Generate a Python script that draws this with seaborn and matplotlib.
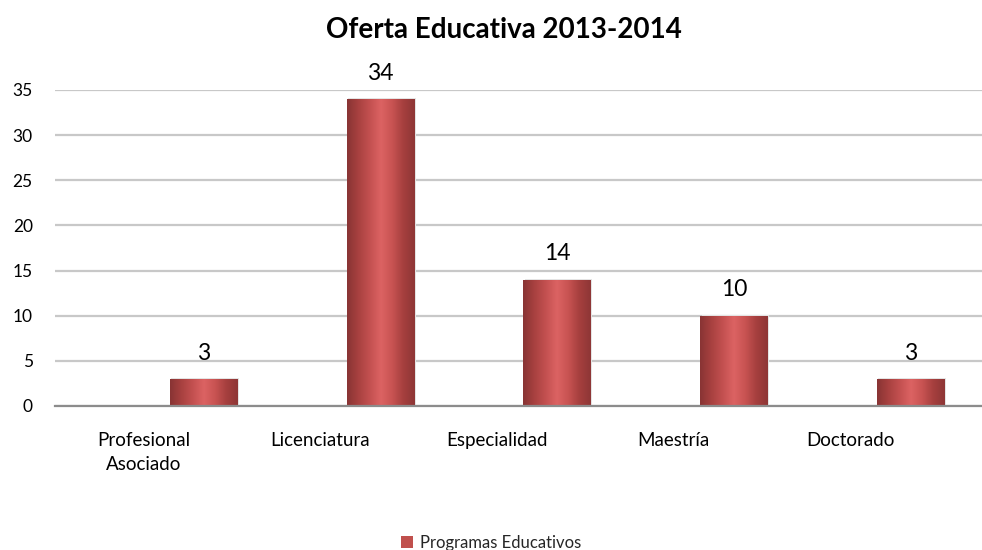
import matplotlib
matplotlib.use("Agg")
import matplotlib.pyplot as plt
import seaborn as sns
import pandas as pd
import numpy as np
from matplotlib.colors import LinearSegmentedColormap
from matplotlib.patches import Patch

categorias = ["Profesional\nAsociado", "Licenciatura", "Especialidad", "Maestría", "Doctorado"]
valores = [3, 34, 14, 10, 3]
serie = "Programas Educativos"
titulo = "Oferta Educativa 2013-2014"
yticks = [0, 5, 10, 15, 20, 25, 30, 35]

df = pd.DataFrame({"categoria": categorias, "valor": valores})

sns.set_theme(style="white")
plt.rcParams["font.family"] = ["Lato", "DejaVu Sans"]

fig = plt.figure(figsize=(9.82, 5.5), dpi=100)
ax = fig.add_axes([55/982, 1-406/550, 1-55/982, (406-90)/550])

base_color = "#c0504d"
sns.barplot(data=df, x="categoria", y="valor", color=base_color, width=0.382, ax=ax,
            saturation=1, zorder=3)

offset = 0.342
cmap = LinearSegmentedColormap.from_list(
    "cyl", ["#883434", "#a84140", "#c35050", "#dc6363", "#c85352", "#a53f3e", "#8e3636"])
grad = np.linspace(0, 1, 256).reshape(1, -1)
bars = list(ax.patches)
for p in bars:
    p.set_x(p.get_x() + offset)
    p.set_edgecolor("none")
    x0, w, h = p.get_x(), p.get_width(), p.get_height()
    ax.add_patch(plt.Rectangle((x0 + 0.008, 0), w, h + 0.1, color="#e4e4e4", zorder=2.5, lw=0))
    im = ax.imshow(grad, extent=(x0, x0 + w, 0, h), cmap=cmap, aspect="auto", zorder=3.5,
                   interpolation="bicubic")
    im.set_clip_path(p)

for p, v in zip(bars, valores):
    ax.annotate(str(v), (p.get_x() + p.get_width()/2, p.get_height()), xytext=(0, 11),
                textcoords="offset points", ha="center", va="bottom", fontsize=16.5,
                color="#000000", clip_on=False, zorder=5)

ax.set_xlim(-0.5, 4.746)
ax.set_ylim(0, 35)
ax.set_yticks(yticks)
ax.set_yticklabels([str(t) for t in yticks], fontsize=12.5, color="#000000")
ax.tick_params(axis="y", length=0, pad=16)
ax.tick_params(axis="x", length=0, pad=19, labelsize=13.5, labelcolor="#000000")
ax.set_xlabel("")
ax.set_ylabel("")
for lbl in ax.get_xticklabels():
    lbl.set_linespacing(1.45)
ax.grid(axis="y", color="#c8c8c8", linewidth=1.6, zorder=0)
ax.set_axisbelow(True)
for s in ["top", "right", "left"]:
    ax.spines[s].set_visible(False)
ax.spines["bottom"].set_color("#8c8c8c")
ax.spines["bottom"].set_linewidth(1.6)
ax.spines["bottom"].set_zorder(4)

fig.text(504/982, 1-30/550, titulo, ha="center", va="center", fontsize=20, fontweight="bold",
         color="#000000")

handle = Patch(facecolor=base_color, edgecolor="none", label=serie)
fig.legend(handles=[handle], loc="center", bbox_to_anchor=(491/982, 1-543/550), frameon=False,
           fontsize=12, handlelength=0.75, handleheight=0.75, handletextpad=0.4)

fig.savefig("out.png", dpi=100)
